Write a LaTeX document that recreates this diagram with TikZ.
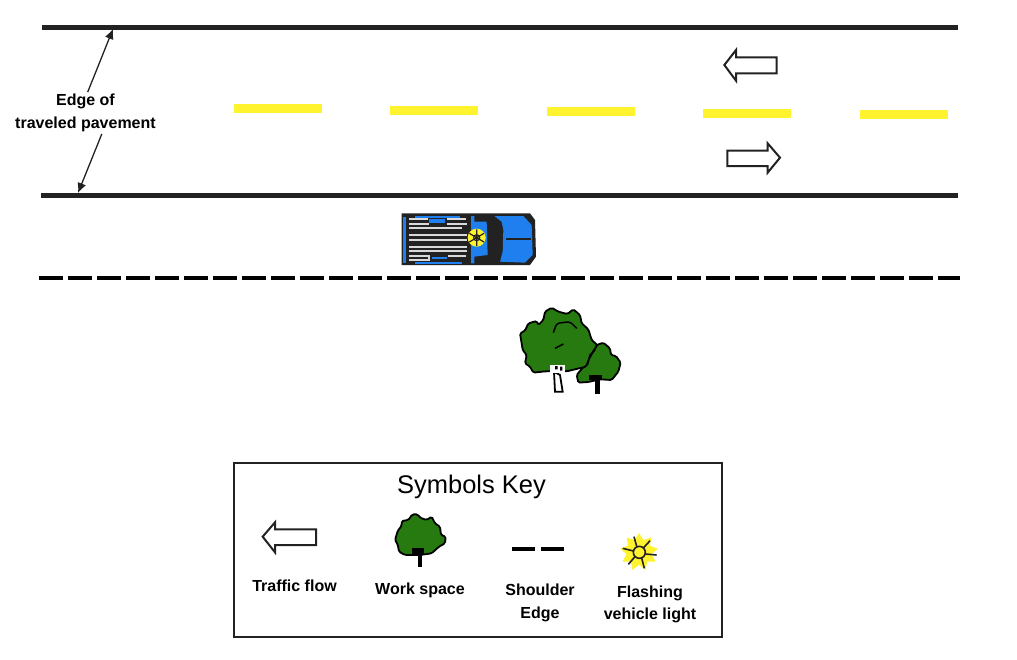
\documentclass[tikz,border=0pt]{standalone}
\usepackage{fontspec}
\setmainfont{Liberation Sans}
\usepackage{tikz}
\usetikzlibrary{arrows.meta,shapes.geometric}
\definecolor{roadyellow}{HTML}{FFF22E}
\definecolor{truckblue}{HTML}{1F7FEF}
\definecolor{treegreen}{HTML}{267A10}
\definecolor{darkline}{HTML}{222222}
\tikzset{
    roadedge/.style={line width=5pt,darkline},
    centerdash/.style={line width=9pt,roadyellow},
    flowarrow/.style={line width=2pt,darkline,fill=white,line join=miter},
    treeblob/.style={draw=black,line width=1.8pt,fill=treegreen,rounded corners=1.5pt},
    tinylabel/.style={font=\bfseries\fontsize{16}{22.5}\selectfont,align=center,inner sep=2pt},
    pavearrow/.style={-{Latex[length=10pt,width=9pt]},line width=1.3pt,darkline},
}
\begin{document}
\begin{tikzpicture}[x=1pt,y=-1pt]
    \useasboundingbox (0,0) rectangle (1017,659);
    % road
    \draw[roadedge] (42,27) -- (958,27);
    \draw[roadedge] (41,195) -- (958,195);
    \draw[black,line width=4.5pt,dash pattern=on 23.5pt off 5.5pt] (39,278) -- (960,278);
    \draw[centerdash] (234,108.5) -- (322,108.5);
    \draw[centerdash] (390,110) -- (478,110);
    \draw[centerdash] (547,111.5) -- (635,111.5);
    \draw[centerdash] (703,113) -- (791,113);
    \draw[centerdash] (860,114.5) -- (948,114.5);
    % flow arrows
    \begin{scope}[shift={(700,40)},scale=1/3]
        \draw[flowarrow] (73,75) -- (108,30) -- (108,52) -- (230,52) -- (230,100) -- (108,100) -- (108,122) -- cycle;
        \draw[flowarrow] (240,353) -- (203,310) -- (203,332) -- (82,332) -- (82,378) -- (203,378) -- (203,398) -- cycle;
    \end{scope}
    % edge label
    \node[tinylabel] (edgelabel) at (85.5,113) {Edge of\\traveled pavement};
    \coordinate (topedge) at (113,29);
    \coordinate (bottomedge) at (78,193);
    \draw[pavearrow] (edgelabel.84) -- (topedge);
    \draw[pavearrow] (edgelabel.-52) -- (bottomedge);
    % truck
    \begin{scope}[shift={(390,200)},scale=1/3]
        \fill[darkline] (35,40) -- (420,40) -- (435,60) -- (438,170) -- (420,195) -- (35,195) -- cycle;
        \fill[truckblue] (40,50) rectangle (47,190);
        \fill[truckblue] (75,47) rectangle (210,53);
        \fill[truckblue] (118,56) rectangle (165,70);
        \fill[truckblue] (125,170) rectangle (172,178);
        \fill[truckblue] (75,185) rectangle (215,192);
        \fill[truckblue] (243,48) -- (253,48) -- (253,65) -- (290,65) -- (293,165) -- (253,170) -- (253,190) -- (243,190) -- cycle;
        \fill[truckblue] (313,48) -- (400,48) -- (425,75) -- (428,165) -- (405,188) -- (330,185) -- (338,155) -- (340,90) -- (335,65) -- cycle;
        \draw[darkline,line width=2.5pt] (348,117) -- (423,117);
        \draw[white!85!black,line width=1.7pt] (57,58) -- (115,58) (57,72) -- (118,72) (170,58) -- (228,58) (170,72) -- (230,72) (57,85) -- (215,85);
        \draw[white!85!black,line width=1.7pt] (57,105) -- (232,105) (57,120) -- (232,120) (57,140) -- (232,140) (57,152) -- (232,152);
        \draw[white!85!black,line width=1.7pt] (57,167) -- (118,167) -- (118,180) -- (57,180) (175,167) -- (228,167);
        \fill[roadyellow] (260,113) circle (27);
        \draw[darkline,line width=1.2pt] (260,113) circle (9);
        \draw[darkline,line width=1.2pt] (260,88) -- (260,138) (238,100) -- (282,126) (238,126) -- (282,100);
    \end{scope}
    % trees
    \begin{scope}[shift={(510,300)},scale=1/3]
        \draw[treeblob] (200,225) -- (225,195) -- (245,150) -- (260,135) -- (280,128) -- (300,145) -- (303,165) -- (318,168) -- (332,188) -- (325,215) -- (305,240) -- (270,238) -- (235,246) -- (205,248) -- cycle;
        \fill[black] (238,224) rectangle (275,240);
        \fill[black] (255,240) rectangle (270,282);
        \draw[treeblob] (35,130) -- (30,100) -- (45,92) -- (55,70) -- (80,63) -- (85,75) -- (100,60) -- (105,35) -- (125,23) -- (145,35) -- (172,42) -- (190,28) -- (210,45) -- (215,70) -- (235,88) -- (245,120) -- (262,135) -- (252,150) -- (238,175) -- (228,200) -- (170,214) -- (105,214) -- (70,218) -- (60,200) -- (45,190) -- (50,165) -- (38,150) -- cycle;
        \draw[black,line width=1.5pt,rounded corners=3pt] (130,98) -- (140,70) -- (180,65) -- (200,85);
        \draw[black,line width=1.5pt] (135,145) -- (160,132);
        \draw[black,line width=1.5pt] (232,195) -- (240,165) -- (255,150);
        \draw[black,fill=white,line width=1.8pt] (132,215) -- (135,275) -- (158,275) -- (150,225) -- cycle;
        \fill[white] (120,196) rectangle (165,218);
        \fill[black] (135,198) rectangle (143,208) (150,200) rectangle (157,212);
    \end{scope}
    % key
    \node[draw=darkline,line width=1.2pt,minimum width=488pt,minimum height=174pt,inner sep=0pt] (keybox) at (478,550) {};
    \node[font=\fontsize{25.5}{30}\selectfont,inner sep=0pt] (keytitle) at (471.5,486.5) {Symbols Key};
    \begin{scope}[shift={(230,460)},scale=1/3]
        \draw[flowarrow] (98,230) -- (135,187) -- (135,208) -- (258,208) -- (258,255) -- (135,255) -- (135,277) -- cycle;
        \draw[black,line width=4pt] (847,267) -- (915,267);
        \draw[black,line width=4pt] (933,267) -- (1002,267);
    \end{scope}
    \begin{scope}[shift={(385,505)},scale=1/3]
        \draw[treeblob] (38,78) -- (50,62) -- (50,48) -- (70,45) -- (82,28) -- (98,28) -- (105,38) -- (125,45) -- (140,35) -- (150,55) -- (165,65) -- (168,90) -- (182,95) -- (180,115) -- (162,125) -- (140,145) -- (105,150) -- (60,150) -- (42,140) -- (38,118) -- (30,105) -- cycle;
        \fill[black] (82,130) rectangle (118,150);
        \fill[black] (100,150) rectangle (112,187);
    \end{scope}
    \node[star,star points=9,star point ratio=1.5,minimum size=38pt,inner sep=0pt,fill=roadyellow] (keylight) at (639,552) {};
    \begin{scope}[shift={(610,525)},scale=1/3]
        \draw[darkline,line width=1.6pt] (88,82) circle (18);
        \draw[darkline,line width=1.6pt] (72,35) -- (80,64) (120,47) -- (101,68) (38,70) -- (70,78) (140,90) -- (106,87) (55,118) -- (74,96) (103,130) -- (95,99);
    \end{scope}
    \node[tinylabel] (flowlabel) at (294.5,586) {Traffic flow};
    \node[tinylabel] (spacelabel) at (420,590) {Work space};
    \node[tinylabel] (shoulderlabel) at (540,603) {Shoulder\\Edge};
    \node[tinylabel] (lightlabel) at (650,604.5) {Flashing\\vehicle light};
\end{tikzpicture}
\end{document}
